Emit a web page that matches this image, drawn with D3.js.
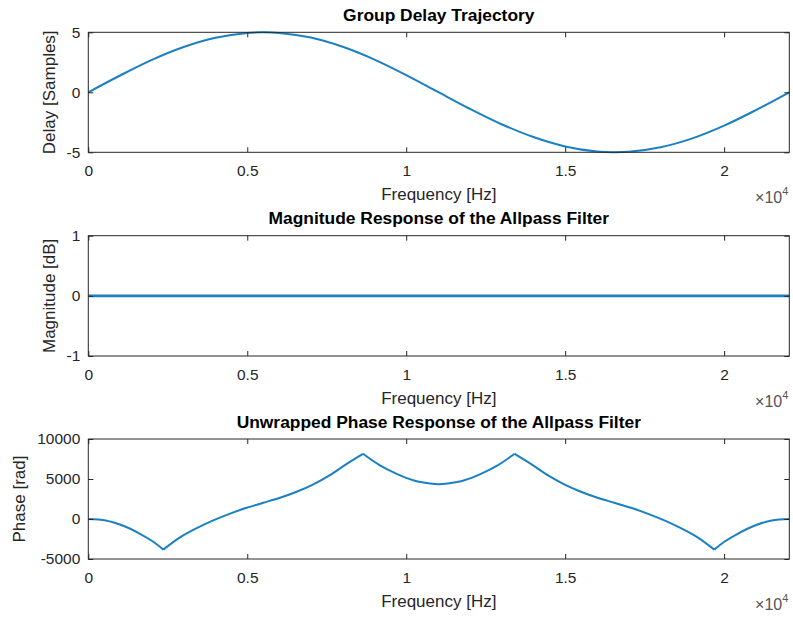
<!DOCTYPE html>
<html>
<head>
<meta charset="utf-8">
<script src="https://cdn.jsdelivr.net/npm/d3@7"></script>
<style>
  html, body { margin: 0; padding: 0; background: #fff; }
  svg { display: block; font-family: "Liberation Sans", Arial, Helvetica, sans-serif; }
</style>
</head>
<body>
<svg id="fig" width="793" height="617"></svg>
<script>
// Frequency axis (Hz) shared by all three panels
const freqTicks = [0, 5000, 10000, 15000, 20000];
const freqMax = 22050;

// Group delay trajectory (samples)
const delayFreq = [0, 1000, 2000, 3000, 4000, 5000, 5500, 6000, 7000, 8000, 9000, 10000, 11000,
                   12000, 13000, 14000, 15000, 16000, 16500, 17000, 18000, 19000, 20000, 21000, 22050];
const delaySamples = [0, 1.4, 2.7, 3.77, 4.54, 4.95, 5.0, 4.95, 4.56, 3.79, 2.73, 1.44, 0.03,
                      -1.37, -2.66, -3.73, -4.51, -4.94, -5.0, -4.96, -4.58, -3.84, -2.78, -1.48, 0];
const delayTicks = [-5, 0, 5];

// Magnitude response (dB)
const magFreq = [0, 5000, 10000, 15000, 20000, 22050];
const magDb = [0, 0, 0, 0, 0, 0];
const magTicks = [-1, 0, 1];

// Unwrapped phase response (rad)
const phaseFreq = [0, 550, 1100, 1625, 2045, 2360, 2885, 3410, 3930, 4460, 4980, 5505, 6030, 6555,
                   7080, 7600, 8130, 8640, 9175, 9700, 10220, 10750, 11025, 11300, 11830, 12350,
                   12875, 13410, 13920, 14450, 14970, 15495, 16020, 16545, 17070, 17590, 18120,
                   18640, 19165, 19690, 20005, 20425, 20950, 21500, 22050];
const phaseRad = [0, -180, -850, -1850, -2850, -3830, -2300, -1150, -175, 675, 1400, 2025, 2650, 3400,
                  4325, 5475, 6900, 8150, 6700, 5650, 4850, 4430, 4330, 4430, 4850, 5650,
                  6700, 8150, 6900, 5475, 4325, 3400, 2650, 2025, 1400, 675, -175,
                  -1150, -2300, -3830, -2850, -1850, -850, -180, 0];
const phaseCusps = [2360, 8640, 13410, 19690];
const phaseTicks = [-5000, 0, 5000, 10000];

const panels = [
  { title: "Group Delay Trajectory", ylabel: "Delay [Samples]", top: 32.3, bottom: 152.3,
    domain: [-5, 5], ticks: delayTicks, xs: delayFreq, ys: delaySamples, cusps: [], ylabelX: 54.5, width: 2 },
  { title: "Magnitude Response of the Allpass Filter", ylabel: "Magnitude [dB]", top: 235.7, bottom: 356,
    domain: [-1, 1], ticks: magTicks, xs: magFreq, ys: magDb, cusps: [], ylabelX: 54.5, width: 2.6 },
  { title: "Unwrapped Phase Response of the Allpass Filter", ylabel: "Phase [rad]", top: 439, bottom: 559,
    domain: [-5000, 10000], ticks: phaseTicks, xs: phaseFreq, ys: phaseRad, cusps: phaseCusps, ylabelX: 25, width: 2 }
];

const left = 88.3, right = 789.3;
const axisColor = "#262626";
const lineColor = "#0072BD";
const svg = d3.select("#fig");
svg.append("rect").attr("width", 793).attr("height", 617).attr("fill", "#fff");

const x = d3.scaleLinear().domain([0, freqMax]).range([left, right]);
const plainNumber = d => (d < 0 ? "-" : "") + String(Math.abs(d));

panels.forEach(p => {
  const y = d3.scaleLinear().domain(p.domain).range([p.bottom, p.top]);
  const g = svg.append("g");

  // data line, split into smooth pieces between cusps
  const pts = p.xs.map((f, i) => [f, p.ys[i]]);
  const pieces = [];
  let cur = [];
  pts.forEach(pt => {
    cur.push(pt);
    if (p.cusps.includes(pt[0])) { pieces.push(cur); cur = [pt]; }
  });
  if (cur.length > 1) pieces.push(cur);
  const line = d3.line().x(d => x(d[0])).y(d => y(d[1])).curve(d3.curveCatmullRom.alpha(0.5));
  pieces.forEach(seg => {
    g.append("path").attr("d", line(seg)).attr("fill", "none")
      .attr("stroke", lineColor).attr("stroke-width", p.width)
      .attr("stroke-opacity", 0.9).attr("stroke-linejoin", "round");
  });

  // inward ticks on all four sides
  const bottomAxis = d3.axisBottom(x).tickValues(freqTicks).tickSizeInner(-5).tickSizeOuter(0)
    .tickPadding(12.5).tickFormat(d => d3.format("~g")(d / 1e4));
  const topAxis = d3.axisTop(x).tickValues(freqTicks).tickSizeInner(-5).tickSizeOuter(0).tickFormat("");
  const leftAxis = d3.axisLeft(y).tickValues(p.ticks).tickSizeInner(-5).tickSizeOuter(0)
    .tickPadding(8).tickFormat(plainNumber);
  const rightAxis = d3.axisRight(y).tickValues(p.ticks).tickSizeInner(-5).tickSizeOuter(0).tickFormat("");

  const axes = [
    g.append("g").attr("transform", `translate(0,${p.bottom})`).call(bottomAxis),
    g.append("g").attr("transform", `translate(0,${p.top})`).call(topAxis),
    g.append("g").attr("transform", `translate(${left},0)`).call(leftAxis),
    g.append("g").attr("transform", `translate(${right},0)`).call(rightAxis)
  ];
  axes.forEach(a => {
    a.select(".domain").remove();
    a.selectAll(".tick line").attr("stroke", axisColor).attr("stroke-width", 1);
    a.selectAll(".tick text").attr("font-size", 15.5).attr("fill", axisColor);
  });

  // axes box
  g.append("rect").attr("x", left).attr("y", p.top)
    .attr("width", right - left).attr("height", p.bottom - p.top)
    .attr("fill", "none").attr("stroke", axisColor).attr("stroke-width", 1);

  // title
  g.append("text").attr("x", (left + right) / 2).attr("y", p.top - 11.3)
    .attr("text-anchor", "middle").attr("font-size", 17.4).attr("font-weight", "bold")
    .attr("fill", "#000").text(p.title);

  // x label
  g.append("text").attr("x", (left + right) / 2).attr("y", p.bottom + 47.5)
    .attr("text-anchor", "middle").attr("font-size", 17).attr("fill", axisColor)
    .text("Frequency [Hz]");

  // y label
  g.append("text")
    .attr("transform", `translate(${p.ylabelX},${(p.top + p.bottom) / 2}) rotate(-90)`)
    .attr("text-anchor", "middle").attr("font-size", 17).attr("fill", axisColor)
    .text(p.ylabel);

  // exponent marker
  const ex = g.append("text").attr("x", right - 1).attr("y", p.bottom + 51)
    .attr("text-anchor", "end").attr("font-size", 16).attr("fill", "#555");
  ex.append("tspan").text("\u00d710");
  ex.append("tspan").attr("font-size", 11).attr("dy", -8).text("4");
});
</script>
</body>
</html>
